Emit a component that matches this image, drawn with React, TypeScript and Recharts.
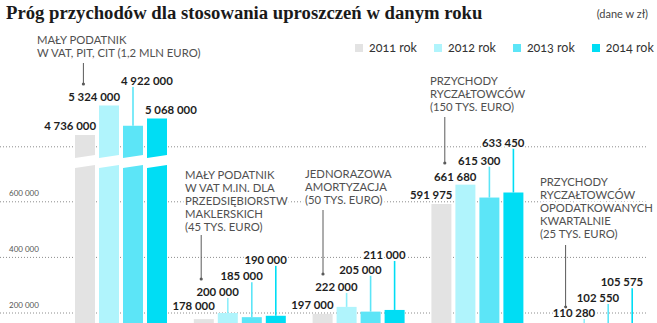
import React from 'react';
import { BarChart, Bar, XAxis, YAxis, CartesianGrid, LabelList, Legend } from 'recharts';

// Category captions, one string per printed line
const categoryLines: string[][] = [
  ['MAŁY PODATNIK', 'W VAT, PIT, CIT (1,2 MLN EURO)'],
  ['MAŁY PODATNIK', 'W VAT M.IN. DLA', 'PRZEDSIĘBIORSTW', 'MAKLERSKICH', '(45 TYS. EURO)'],
  ['JEDNORAZOWA', 'AMORTYZACJA', '(50 TYS. EURO)'],
  ['PRZYCHODY', 'RYCZAŁTOWCÓW', '(150 TYS. EURO)'],
  ['PRZYCHODY', 'RYCZAŁTOWCÓW', 'OPODATKOWANYCH', 'KWARTALNIE', '(25 TYS. EURO)'],
];

const years = ['2011 rok', '2012 rok', '2013 rok', '2014 rok'];

// Thresholds in PLN
const values2011 = [4736000, 178000, 197000, 591975, 98663];
const values2012 = [5324000, 200000, 222000, 661680, 110280];
const values2013 = [4922000, 185000, 205000, 615300, 102550];
const values2014 = [5068000, 190000, 211000, 633450, 105575];

const yTicks = [200000, 400000, 600000, 4500000];
const labelledTicks = [200000, 400000, 600000];

const seriesKeys = ['y2011', 'y2012', 'y2013', 'y2014'];

const data = categoryLines.map((lines, i) => ({
  name: lines.join(' '),
  y2011: values2011[i],
  y2012: values2012[i],
  y2013: values2013[i],
  y2014: values2014[i],
}));

// ---- styling / layout ----
const COLORS = ['#e3e3e3', '#b0f4fc', '#5ce5f7', '#00ddf4'];
const LEADER_COLORS = ['#c8c8c8', '#8eeefa', '#5ce5f7', '#00ddf4'];
const SANS = 'Lato, "Open Sans", sans-serif';

// Broken value axis: linear up to the break, squeezed gap, then a compressed top segment
const knotValues = [0, 727000, 4306000, 5400000];
const knotFractions = [0, 202.1 / 266.8, 212.1 / 266.8, 1];

function fractionOf(v: number): number {
  const n = knotValues.length;
  for (let i = 1; i < n; i++) {
    if (v <= knotValues[i] || i === n - 1) {
      const t = (v - knotValues[i - 1]) / (knotValues[i] - knotValues[i - 1]);
      return knotFractions[i - 1] + t * (knotFractions[i] - knotFractions[i - 1]);
    }
  }
  return 0;
}

function valueOfFraction(f: number): number {
  const n = knotFractions.length;
  for (let i = 1; i < n; i++) {
    if (f <= knotFractions[i] || i === n - 1) {
      const t = (f - knotFractions[i - 1]) / (knotFractions[i] - knotFractions[i - 1]);
      return knotValues[i - 1] + t * (knotValues[i] - knotValues[i - 1]);
    }
  }
  return 0;
}

function brokenScale(): any {
  let dom: number[] = [knotValues[0], knotValues[knotValues.length - 1]];
  let rng: number[] = [0, 1];
  const scale: any = (v: any) => rng[0] + fractionOf(Number(v)) * (rng[1] - rng[0]);
  scale.domain = (d?: number[]) => {
    if (d === undefined) return dom.slice();
    dom = d.slice();
    return scale;
  };
  scale.range = (r?: number[]) => {
    if (r === undefined) return rng.slice();
    rng = r.slice();
    return scale;
  };
  scale.copy = () => brokenScale().domain(dom).range(rng);
  scale.invert = (px: number) => valueOfFraction((px - rng[0]) / (rng[1] - rng[0]));
  scale.ticks = () => yTicks.slice();
  scale.tickFormat = () => (v: number) => String(v);
  scale.nice = () => scale;
  scale.clamp = () => scale;
  return scale;
}

const yScale = brokenScale();

// Label placement: lift of label centre above bar top (px) and alignment
const labelLift = [
  [9, 13, 9, 9, 9],
  [9, 21, 20, 8, 25],
  [45, 41, 42, 37, 42],
  [8, 56, 55, 50, 57],
];
const labelStart = [
  [false, false, false, false, false],
  [false, false, false, false, false],
  [true, false, false, false, false],
  [true, false, false, false, false],
];

// Caption placement relative to category centre
const captionLayout = [
  { dx: -84.4, y: 44, leadDx: -38, leadTop: 63, leadBottom: 84 },
  { dx: -55.2, y: 179, leadDx: -39, leadTop: 235, leadBottom: 279 },
  { dx: -54, y: 178, leadDx: -36, leadTop: 210, leadBottom: 274 },
  { dx: -47.8, y: 85, leadDx: -33, leadTop: 117, leadBottom: 163 },
  { dx: -56.6, y: 186, leadDx: -31, leadTop: 245, leadBottom: 307 },
];

const fmt = (v: number) => String(Math.round(v)).replace(/\B(?=(\d{3})+(?!\d))/g, ' ');

function makeShape(key: string) {
  return (props: any) => {
    const { x, y, width, height, fill, payload } = props;
    const v = payload ? payload[key] : 0;
    if (!(height > 0)) return <g />;
    const f = fractionOf(v);
    if (v <= knotValues[2] || f <= 0) {
      return <rect x={x} y={y} width={width} height={height} fill={fill} />;
    }
    const bottom = y + height;
    const span = height / f;
    const yLow = bottom - knotFractions[1] * span;
    const yHigh = bottom - knotFractions[2] * span;
    const s = 1.6;
    const upper = `${x},${y} ${x + width},${y} ${x + width},${yHigh - s} ${x},${yHigh + s}`;
    const lower = `${x},${yLow + s} ${x + width},${yLow - s} ${x + width},${bottom} ${x},${bottom}`;
    return (
      <g>
        <polygon points={upper} fill={fill} />
        <polygon points={lower} fill={fill} />
      </g>
    );
  };
}

function makeLabel(series: number) {
  return (props: any) => {
    const vb = props.viewBox || props;
    const bx = Number(vb.x ?? props.x);
    const by = Number(vb.y ?? props.y);
    const bw = Number(vb.width ?? props.width);
    const idx = props.index;
    if (idx == null || isNaN(bx)) return null;
    const lift = labelLift[series][idx];
    const centreY = by - lift;
    const start = labelStart[series][idx];
    const tx = start ? bx - 2 : bx + bw + 1;
    return (
      <g>
        {lift > 14 && (
          <line
            x1={bx + bw / 2}
            x2={bx + bw / 2}
            y1={centreY + 6}
            y2={by}
            stroke={LEADER_COLORS[series]}
            strokeWidth={1.6}
          />
        )}
        <text
          x={tx}
          y={centreY + 4}
          textAnchor={start ? 'start' : 'end'}
          fontFamily={SANS}
          fontWeight={700}
          fontSize={11.4}
          fill="#1e1e1e"
          stroke="#ffffff"
          strokeWidth={3}
          paintOrder="stroke"
          strokeLinejoin="round"
        >
          {fmt(Number(props.value))}
        </text>
      </g>
    );
  };
}

const CaptionTick = (props: any) => {
  const { x, payload } = props;
  const idx = data.findIndex((d) => d.name === payload.value);
  if (idx < 0) return <g />;
  const lay = captionLayout[idx];
  const lines = categoryLines[idx];
  const lx = x + lay.leadDx;
  return (
    <g>
      {lines.map((ln, i) => (
        <text
          key={i}
          x={x + lay.dx}
          y={lay.y + i * 13}
          fontFamily={SANS}
          fontSize={11.3}
          fill="#505050"
          stroke="#ffffff"
          strokeWidth={5}
          strokeLinejoin="round"
          paintOrder="stroke"
        >
          {ln}
        </text>
      ))}
      <line x1={lx} x2={lx} y1={lay.leadTop} y2={lay.leadBottom} stroke="#5a5a5a" strokeWidth={1} />
      <circle cx={lx} cy={lay.leadBottom} r={1.6} fill="#5a5a5a" />
    </g>
  );
};

const ValueTick = (props: any) => {
  const { y, payload } = props;
  if (!labelledTicks.includes(payload.value)) return <g />;
  return (
    <text x={9} y={y - 5.5} fontFamily={SANS} fontSize={8} fill="#555555">
      {fmt(payload.value)}
    </text>
  );
};

const renderLegend = (props: any) => {
  const items = props.payload || [];
  return (
    <div style={{ display: 'flex', alignItems: 'center', whiteSpace: 'nowrap', fontFamily: SANS, fontSize: 12.5, color: '#333' }}>
      {items.map((e: any, i: number) => (
        <div key={i} style={{ display: 'flex', alignItems: 'center', flex: 'none', marginRight: 17 }}>
          <span style={{ display: 'inline-block', width: 8, height: 8, background: e.color, marginRight: 6 }} />
          <span style={{ fontVariantNumeric: 'oldstyle-nums' }}>{e.value}</span>
        </div>
      ))}
    </div>
  );
};

const GridLine = (props: any) => {
  if (props.y1 < 120) return <g key={props.key} />;
  return (
    <line
      key={props.key}
      x1={0}
      y1={props.y1}
      x2={648}
      y2={props.y2}
      stroke="#8c8c8c"
      strokeWidth={1}
      strokeDasharray="1 2"
    />
  );
};

export default function App() {
  return (
    <div style={{ position: 'fixed', left: 0, top: 0, width: 657, height: 323, overflow: 'hidden', background: '#fff' }}>
      <BarChart
        width={657}
        height={380}
        data={data}
        margin={{ top: 101.8, right: 1, bottom: 10.4, left: 0 }}
        barSize={20}
        barGap={4}
      >
        <CartesianGrid vertical={false} horizontal={GridLine as any} />
        <XAxis
          dataKey="name"
          type="category"
          height={1}
          axisLine={false}
          tickLine={false}
          interval={0}
          padding={{ left: 61, right: 0 }}
          tick={<CaptionTick />}
        />
        <YAxis
          type="number"
          scale={yScale}
          domain={[0, 5400000]}
          ticks={yTicks}
          interval={0}
          width={1}
          axisLine={false}
          tickLine={false}
          tick={<ValueTick />}
        />
        <Legend
          layout="horizontal"
          verticalAlign="middle"
          align="center"
          content={renderLegend}
          wrapperStyle={{ top: 40, left: 355, width: 320, height: 18 }}
        />
        {seriesKeys.map((k, s) => (
          <Bar
            key={k}
            dataKey={k}
            name={years[s]}
            fill={COLORS[s]}
            isAnimationActive={false}
            shape={makeShape(k)}
          >
            <LabelList dataKey={k} content={makeLabel(s)} />
          </Bar>
        ))}
      </BarChart>
      <svg width={657} height={30} style={{ position: 'absolute', left: 0, top: 0, pointerEvents: 'none' }}>
        <text x={6} y={19} fontFamily='"Liberation Serif", serif' fontWeight={700} fontSize={18.7} fill="#1a1a1a">
          Próg przychodów dla stosowania uproszczeń w danym roku
        </text>
        <text x={648} y={18} textAnchor="end" fontFamily={SANS} fontSize={11} fill="#444">
          (dane w zł)
        </text>
      </svg>
    </div>
  );
}
